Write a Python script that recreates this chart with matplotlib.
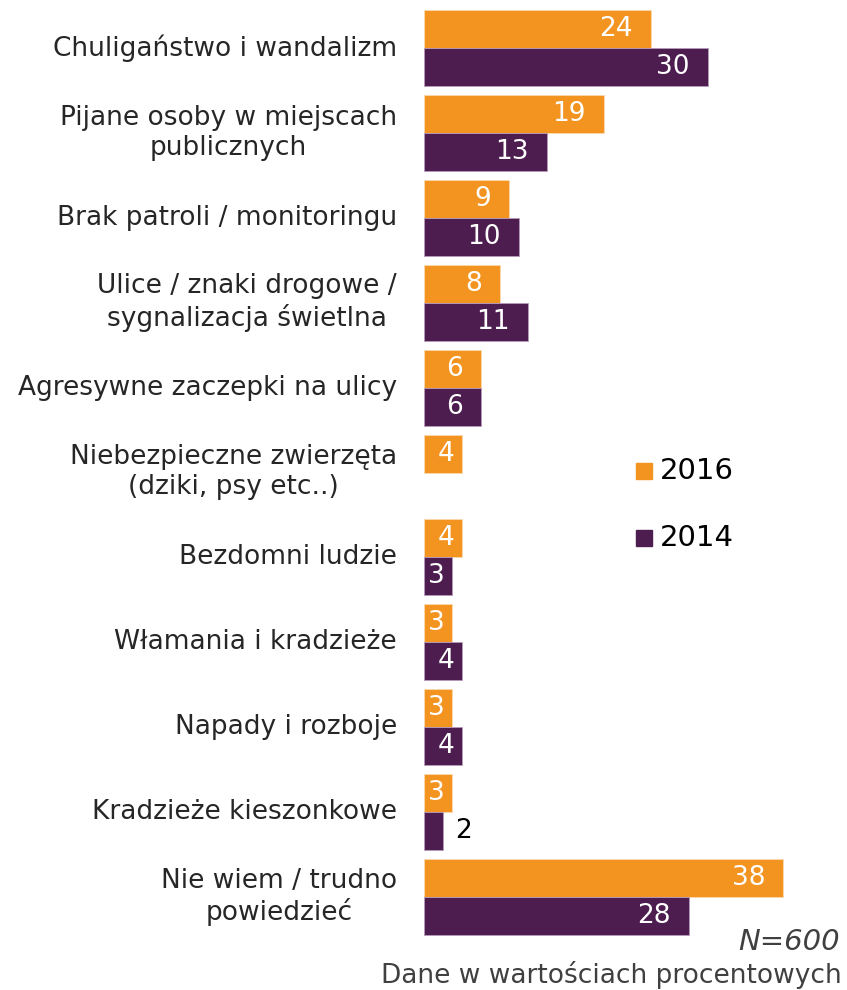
import numpy as np
import matplotlib
matplotlib.use('Agg')
import matplotlib.pyplot as plt
from matplotlib.patches import Rectangle

plt.rcParams['font.family'] = ['DejaVu Sans']

# 数据
categories = [
    'Chuligaństwo i wandalizm',
    'Pijane osoby w miejscach\npublicznych',
    'Brak patroli / monitoringu',
    'Ulice / znaki drogowe /\nsygnalizacja świetlna',
    'Agresywne zaczepki na ulicy',
    'Niebezpieczne zwierzęta\n(dziki, psy etc..)',
    'Bezdomni ludzie',
    'Włamania i kradzieże',
    'Napady i rozboje',
    'Kradzieże kieszonkowe',
    'Nie wiem / trudno\npowiedzieć',
]
values_2016 = [24, 19, 9, 8, 6, 4, 4, 3, 3, 3, 38]
values_2014 = [30, 13, 10, 11, 6, np.nan, 3, 4, 4, 2, 28]
series_labels = ['2016', '2014']

ORANGE = '#F39320'
PURPLE = '#4D1D50'

fig = plt.figure(figsize=(8.47, 9.9), dpi=100)
W, H = 847, 990
ax_left, ax_right, ax_top, ax_bottom = 424, 847, 5, 940
ax = fig.add_axes([ax_left / W, 1 - ax_bottom / H,
                   (ax_right - ax_left) / W, (ax_bottom - ax_top) / H])

y = np.arange(len(categories))
h = 0.447
bars16 = ax.barh(y - h / 2, values_2016, height=h, color=ORANGE,
                 edgecolor='#FBD9B0', linewidth=0.6, label=series_labels[0])
bars14 = ax.barh(y + h / 2, values_2014, height=h, color=PURPLE,
                 edgecolor='#B89BBB', linewidth=0.6, label=series_labels[1])

ax.set_xlim(0, (ax_right - ax_left) / 9.45)
ax.set_ylim(len(categories) - 0.494, -0.506)

fs = 19
# 数值标签（条内白字，过短的条在外侧黑字）
for bars, vals, off in ((bars16, values_2016, -h / 2), (bars14, values_2014, h / 2)):
    for i, (bar, val) in enumerate(zip(bars, vals)):
        if np.isnan(val):
            continue
        yy = i + off
        if val >= 3:
            pad = 1.9 if val >= 6 else 0.8
            t = ax.text(val - pad, yy, f'{val:g}', ha='right', va='center',
                        color='white', fontsize=fs)
            t.set_clip_path(bar)
        else:
            ax.text(val + 1.3, yy, f'{val:g}', ha='left', va='center',
                    color='black', fontsize=fs)

# 类别标签
for i, cat in enumerate(categories):
    ax.text(-2.85, i, cat, ha='right', va='center', fontsize=fs,
            color='#262626', linespacing=1.2, multialignment='center')

for s in ax.spines.values():
    s.set_visible(False)
ax.set_xticks([])
ax.set_yticks([])

# 图例
for yc, col, lab in ((471, ORANGE, series_labels[0]), (538, PURPLE, series_labels[1])):
    fig.patches.append(Rectangle((636 / W, 1 - (yc + 8) / H), 16 / W, 16 / H,
                                 transform=fig.transFigure, color=col))
    fig.text(660 / W, 1 - yc / H, lab, fontsize=21, ha='left', va='center',
             color='black')

fig.text(840 / W, 1 - 942 / H, 'N=600', fontsize=21, style='italic',
         color='#404040', ha='right', va='center')
fig.text(842 / W, 1 - 975 / H, 'Dane w wartościach procentowych',
         fontsize=19, color='#404040', ha='right', va='center')

fig.savefig('out.png', dpi=100)
